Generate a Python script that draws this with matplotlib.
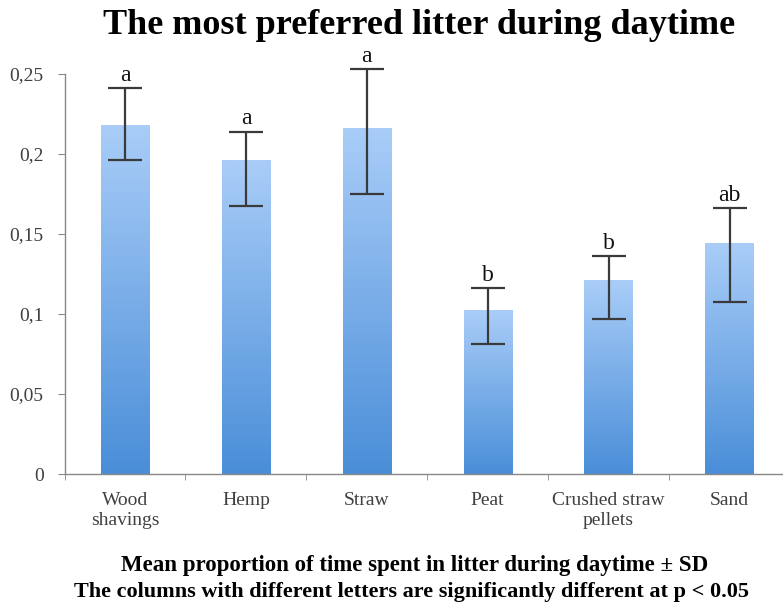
import numpy as np
import matplotlib
matplotlib.use("Agg")
import matplotlib.pyplot as plt
from matplotlib.colors import LinearSegmentedColormap
from matplotlib.ticker import FixedLocator, FuncFormatter

categories = ["Wood\nshavings", "Hemp", "Straw", "Peat", "Crushed straw\npellets", "Sand"]
means = [0.218, 0.196, 0.216, 0.102, 0.121, 0.144]
err_hi = [0.241, 0.214, 0.253, 0.116, 0.136, 0.166]
err_lo = [0.196, 0.1675, 0.175, 0.081, 0.097, 0.1075]
letters = ["a", "a", "a", "b", "b", "ab"]
yticks = [0, 0.05, 0.1, 0.15, 0.2, 0.25]

plt.rcParams["font.family"] = ["Liberation Serif", "DejaVu Serif"]

fig = plt.figure(figsize=(7.83, 6.07), dpi=100)
ax = fig.add_axes([0.0824, 0.219, 0.9265, 0.659])

x = np.arange(len(categories))
bars = ax.bar(x, means, width=0.4, color="none", edgecolor="none", zorder=2)

# vertical gradient fill, light at the top, darker at the bottom
cmap = LinearSegmentedColormap.from_list("barblue", ["#4a8ed8", "#a9cdf8"])
grad = np.linspace(0, 1, 256).reshape(-1, 1)
for r in bars:
    x0, w, h = r.get_x(), r.get_width(), r.get_height()
    ax.imshow(grad, extent=[x0, x0 + w, 0, h], origin="lower", aspect="auto",
              cmap=cmap, zorder=2)

mid = [(hi + lo) / 2 for hi, lo in zip(err_hi, err_lo)]
half = [(hi - lo) / 2 for hi, lo in zip(err_hi, err_lo)]
eb = ax.errorbar(x, mid, yerr=half, fmt="none", ecolor="#3a3a3a", elinewidth=1.6,
                 capsize=12, capthick=1.6, zorder=3)
for art in eb.lines[1] + eb.lines[2]:
    art.set_clip_on(False)
for xi, top, lab in zip(x, err_hi, letters):
    ax.text(xi, top + 0.0015, lab, ha="center", va="bottom", fontsize=17, color="#111111")

ax.set_xlim(-0.5, len(categories) - 0.5)
ax.set_ylim(0, 0.25)
ax.set_xticks(x)
ax.set_xticklabels(categories, fontsize=14, color="#404040", linespacing=1.25)
ax.xaxis.set_minor_locator(FixedLocator(np.arange(-0.5, len(categories), 1.0)))
ax.tick_params(axis="x", which="major", length=0, pad=13)
ax.tick_params(axis="x", which="minor", length=4, color="#888888", direction="out")
ax.set_yticks(yticks)
ax.yaxis.set_major_formatter(FuncFormatter(lambda v, p: ("%g" % v).replace(".", ",")))
ax.tick_params(axis="y", length=5, color="#888888", labelsize=14, labelcolor="#404040", pad=10)

for s in ("top", "right"):
    ax.spines[s].set_visible(False)
for s in ("left", "bottom"):
    ax.spines[s].set_color("#888888")
    ax.spines[s].set_linewidth(1.0)

fig.text(0.535, 0.958, "The most preferred litter during daytime", ha="center", va="center",
         fontsize=26, fontweight="bold")
fig.text(0.53, 0.069, "Mean proportion of time spent in litter during daytime \u00b1 SD",
         ha="center", va="center", fontsize=16.5, fontweight="bold")
fig.text(0.525, 0.025, "The columns with different letters are significantly different at p < 0.05",
         ha="center", va="center", fontsize=16, fontweight="bold")

fig.savefig("out.png", dpi=100)
